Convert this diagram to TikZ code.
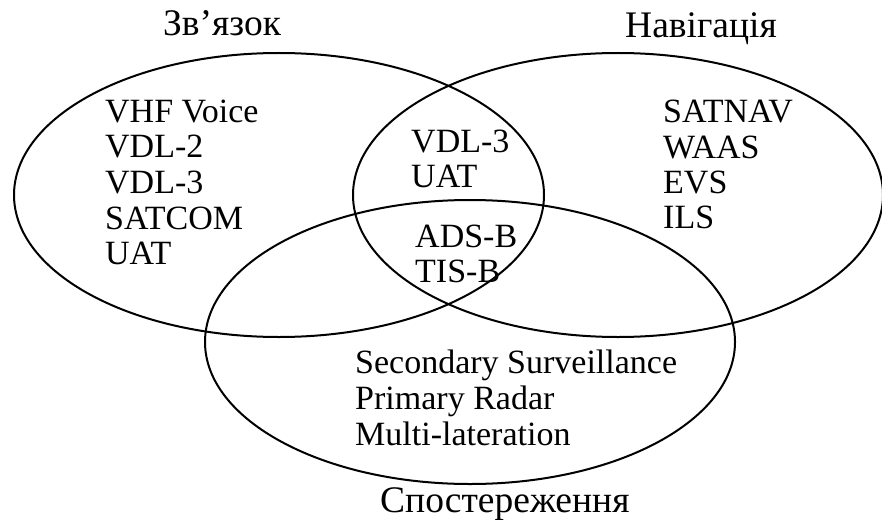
\documentclass[tikz,border=0pt]{standalone}
\usepackage{fontspec}
\setmainfont{Liberation Serif}
\usetikzlibrary{shapes.geometric}
\begin{document}
\begin{tikzpicture}[x=1pt,y=-1pt,
  set/.style={draw, ellipse, line width=2pt, inner sep=0pt,
              minimum width=530pt, minimum height=284pt},
  item/.style={anchor=base west, inner sep=0pt, font=\fontsize{34}{36}\selectfont},
  title/.style={anchor=base west, inner sep=0pt, font=\fontsize{37.5}{40}\selectfont}]
  \useasboundingbox (0,0) rectangle (882,524);

  % the three sets
  \node[set] (comm) at (279,195) {};
  \node[set] (nav)  at (618,195) {};
  \node[set] (surv) at (470,342) {};

  % set titles
  \node[title] (tcomm) at (163,36)  {Зв’язок};
  \node[title] (tnav)  at (625,38)  {Навігація};
  \node[title] (tsurv) at (380,512) {Спостереження};

  % communication only
  \node[item] (c1) at (105,122) {VHF Voice};
  \node[item] (c2) at (105,157) {VDL-2};
  \node[item] (c3) at (105,193) {VDL-3};
  \node[item] (c4) at (105,229) {SATCOM};
  \node[item] (c5) at (105,264) {UAT};

  % communication and navigation
  \node[item] (cn1) at (411,152) {VDL-3};
  \node[item] (cn2) at (411,187) {UAT};

  % all three
  \node[item] (a1) at (415,247) {ADS-B};
  \node[item] (a2) at (415,282) {TIS-B};

  % navigation only
  \node[item] (n1) at (663,122) {SATNAV};
  \node[item] (n2) at (663,158) {WAAS};
  \node[item] (n3) at (663,193) {EVS};
  \node[item] (n4) at (663,228) {ILS};

  % surveillance only
  \node[item] (s1) at (355,373) {Secondary Surveillance};
  \node[item] (s2) at (355,409) {Primary Radar};
  \node[item] (s3) at (355,445) {Multi-lateration};
\end{tikzpicture}
\end{document}
